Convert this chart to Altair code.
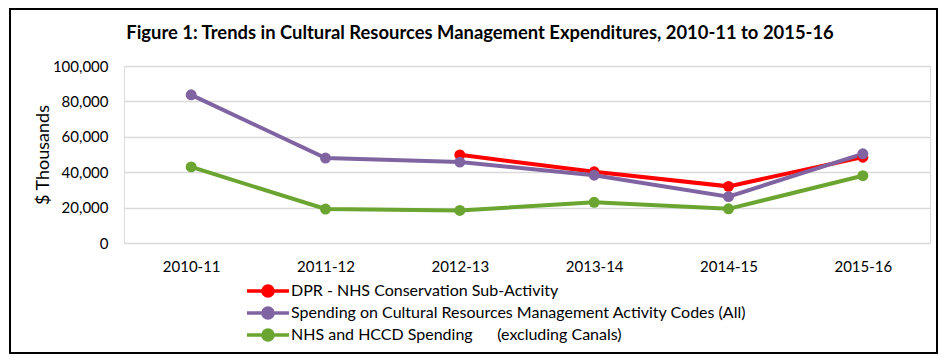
import altair as alt
import pandas as pd

title_text = "Figure 1: Trends in Cultural Resources Management Expenditures, 2010-11 to 2015-16"
categories = ["2010-11", "2011-12", "2012-13", "2013-14", "2014-15", "2015-16"]
series_names = [
    "DPR - NHS Conservation Sub-Activity",
    "Spending on Cultural Resources Management Activity Codes (All)",
    "NHS and HCCD Spending\u00a0\u00a0\u00a0\u00a0\u00a0 (excluding Canals)",
]
dpr_values = [None, None, 49800, 40200, 32000, 48500]
crm_values = [83700, 48000, 45700, 38300, 26200, 50400]
nhs_values = [43000, 19200, 18400, 23000, 19300, 38000]
colors = ["#FF0000", "#8064A2", "#6BA531"]
y_ticks = [0, 20000, 40000, 60000, 80000, 100000]

rows = []
for name, vals in zip(series_names, [dpr_values, crm_values, nhs_values]):
    for c, v in zip(categories, vals):
        if v is not None:
            rows.append({"year": c, "series": name, "value": v})
df = pd.DataFrame(rows)
title_df = pd.DataFrame({"t": [title_text]})

FONT = "Lato"

color = alt.Color(
    "series:N",
    scale=alt.Scale(domain=series_names, range=colors),
    sort=series_names,
    legend=alt.Legend(
        title=None,
        orient="none",
        legendX=135,
        legendY=216,
        symbolType="M-3,0L3,0M-0.72,0A0.72,0.72,0,1,1,0.72,0A0.72,0.72,0,1,1,-0.72,0",
        symbolSize=196,
        symbolStrokeWidth=3.5,
        labelOffset=14,
        labelFontSize=16,
        labelFont=FONT,
        labelColor="#000000",
        labelLimit=600,
        rowPadding=-6,
    ),
)

x = alt.X(
    "year:N",
    sort=categories,
    scale=alt.Scale(domain=categories, paddingOuter=0.5, paddingInner=1),
    axis=alt.Axis(
        title=None, labelAngle=0, labelFontSize=15, labelFont=FONT,
        labelColor="#000000", ticks=False, domain=False, grid=False,
        labelPadding=16,
    ),
)
y = alt.Y(
    "value:Q",
    scale=alt.Scale(domain=[0, 100000], nice=False),
    axis=alt.Axis(
        title="$ Thousands", values=y_ticks, format=",d", labelFontSize=15,
        labelFont=FONT, labelColor="#000000", ticks=False, domain=False,
        gridColor="#D9D9D9", gridWidth=1.3, labelPadding=16,
        titleFont=FONT, titleFontSize=18, titleFontWeight="normal",
        titleColor="#000000", titleX=-81, titleY=88.5, titleAngle=-90,
        titleAlign="center", titleBaseline="middle",
    ),
)

base = alt.Chart(df)
lines = base.mark_line(strokeWidth=4).encode(x=x, y=y, color=color, detail="series:N")
points = base.mark_circle(size=120, opacity=1).encode(
    x=x, y=y,
    color=alt.Color("series:N", scale=alt.Scale(domain=series_names, range=colors), legend=None),
)

border = alt.Chart(title_df).mark_rect(fill=None, stroke="#000000", strokeWidth=2).encode(
    x=alt.value(-114), x2=alt.value(813), y=alt.value(-57), y2=alt.value(287)
)
title = alt.Chart(title_df).mark_text(
    font=FONT, fontSize=18.4, fontWeight="bold", color="#000000",
    align="center", baseline="middle",
).encode(text="t:N", x=alt.value(356), y=alt.value(-33))

chart = alt.layer(lines, points, border, title).properties(
    width=806,
    height=177,
    autosize=alt.AutoSizeParams(type="none"),
    padding={"left": 116, "top": 58, "right": 9, "bottom": 111},
).configure_view(stroke=None).configure(background="#FFFFFF")

chart.save("out.html", embed_options={"renderer": "svg", "actions": False})
